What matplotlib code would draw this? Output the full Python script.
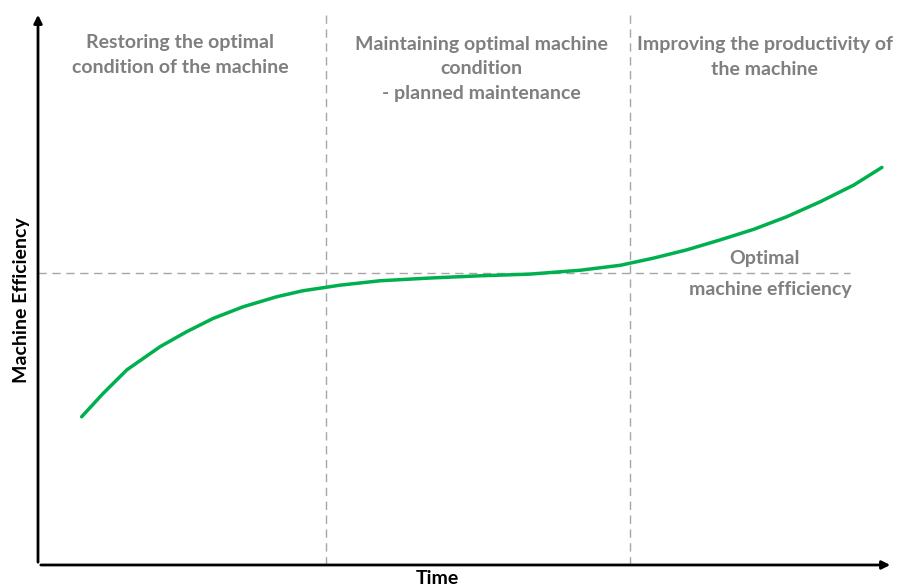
import matplotlib
matplotlib.use("Agg")
from matplotlib import pyplot as plt

# curve (time, efficiency), arbitrary 0-100 units
time_vals = [5.1, 7.6, 10.4, 14.3, 17.4, 20.5, 24.0, 27.9, 31.0, 33.6, 35.3,
             40.0, 45.9, 51.7, 57.5, 63.4, 68.1, 72.0, 75.9, 79.8, 83.7,
             87.6, 91.5, 95.4, 98.7]
efficiency_vals = [26.8, 31.0, 35.3, 39.5, 42.2, 44.6, 46.7, 48.5, 49.6, 50.2, 50.6,
                   51.4, 51.9, 52.3, 52.6, 53.3, 54.2, 55.5, 57.0, 58.8, 60.7,
                   63.0, 65.7, 68.7, 71.9]

phase_bounds = [33.7, 69.2]
optimal_level = 52.8
optimal_end = 95.0

phase_labels = ["Restoring the optimal\ncondition of the machine",
                "Maintaining optimal machine\ncondition\n- planned maintenance",
                "Improving the productivity of\nthe machine"]
phase_label_x = [16.6, 51.9, 85.0]
phase_label_y = [92.2, 89.7, 91.9]

grey_text = "#7f7f7f"
dash_col = "#a6a6a6"
font = ["Lato", "DejaVu Sans"]

fig = plt.figure(figsize=(9.07, 5.87), dpi=100)
ax = fig.add_axes([0.0419, 0.0375, 0.9427, 0.942])
ax.set_xlim(0, 100)
ax.set_ylim(0, 100)
for s in ax.spines.values():
    s.set_visible(False)
ax.set_xticks([])
ax.set_yticks([])

# axis arrows
ax.annotate("", xy=(1.0, 0), xytext=(0, 0), xycoords="axes fraction",
            arrowprops=dict(arrowstyle="-|>", color="black", lw=2, mutation_scale=12))
ax.annotate("", xy=(0, 1.0), xytext=(0, 0), xycoords="axes fraction",
            arrowprops=dict(arrowstyle="-|>", color="black", lw=2, mutation_scale=12))

# phase separators and optimal level
for b in phase_bounds:
    ax.plot([b, b], [0, 100], color=dash_col, lw=1, dashes=(6, 4))
ax.plot([0, optimal_end], [optimal_level, optimal_level], color=dash_col, lw=1, dashes=(6, 4))

ax.plot(time_vals, efficiency_vals, color="#00b04f", lw=2.5,
        solid_capstyle="round", solid_joinstyle="round")

for lab, x, y in zip(phase_labels, phase_label_x, phase_label_y):
    ax.text(x, y, lab, ha="center", va="center", color=grey_text, fontsize=14,
            fontweight="bold", family=font, linespacing=1.55)

ax.text(85.0, 55.5, "Optimal", ha="center", va="center", color=grey_text,
        fontsize=14, fontweight="bold", family=font)
ax.text(85.6, 49.9, "machine efficiency", ha="center", va="center", color=grey_text,
        fontsize=14, fontweight="bold", family=font)

fig.text(22 / 907, 1 - 300 / 587, "Machine Efficiency", rotation=90, ha="center",
         va="center", fontsize=14, fontweight="bold", family=font)
fig.text(437 / 907, 1 - 578 / 587, "Time", ha="center", va="center",
         fontsize=14, fontweight="bold", family=font)

fig.savefig("out.png", dpi=100)
